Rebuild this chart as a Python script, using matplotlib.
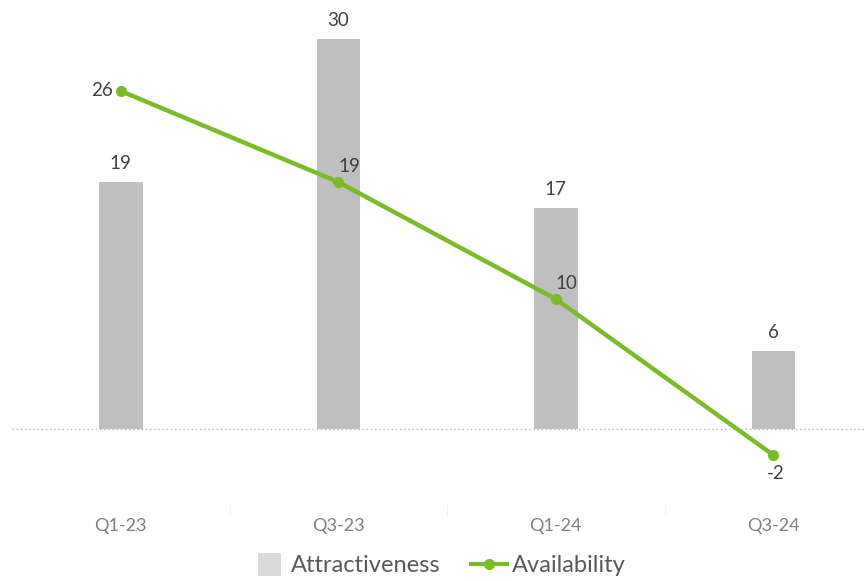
import matplotlib.pyplot as plt
from matplotlib.lines import Line2D
from matplotlib.patches import Patch, Rectangle
from matplotlib.legend_handler import HandlerPatch

quarters = ["Q1-23", "Q3-23", "Q1-24", "Q3-24"]
attractiveness = [19, 30, 17, 6]
availability = [26, 19, 10, -2]

BAR_COLOR = "#bfbfbf"
LINE_COLOR = "#7dba2a"
TEXT_COLOR = "#404040"

plt.rcParams['font.family'] = ['Lato', 'DejaVu Sans']


def square_patch(legend, orig_handle, xdescent, ydescent, width, height, fontsize):
    # box for the bar series, a bit taller than the text
    w = 16
    return Rectangle((width - w - 4 - xdescent, -ydescent - 3), w, height + 5)


fig = plt.figure(figsize=(8.64, 5.81), dpi=100)
ax = fig.add_axes([12 / 864, 66 / 581, 852 / 864, 515 / 581])

x = list(range(len(quarters)))
ax.bar(x, attractiveness, width=0.2, color=BAR_COLOR, zorder=2)
ax.plot(x, availability, color=LINE_COLOR, lw=3.2, marker='o', ms=7, zorder=3)

# bar values above each bar
for xi, v in zip(x, attractiveness):
    ax.annotate(str(v), (xi, v), xytext=(0, 7), textcoords='offset points',
                ha='center', va='bottom', fontsize=13.5, color=TEXT_COLOR)

# line values: first to the left, last below, others above-right
for i, (xi, v) in enumerate(zip(x, availability)):
    if i == 0:
        off, ha, va = (-6, 0), 'right', 'center'
    elif i == len(x) - 1:
        off, ha, va = (2, -7), 'center', 'top'
    else:
        off, ha, va = (0, 5), 'left', 'bottom'
    ax.annotate(str(v), (xi, v), xytext=off, textcoords='offset points',
                ha=ha, va=va, fontsize=13.5, color=TEXT_COLOR)

ax.axhline(0, color="#b8b8b8", lw=1, ls=(0, (1, 2)), zorder=1)

ax.set_xlim(-0.5, 3.417)
ax.set_ylim((429 - 515) / 13, 429 / 13)
ax.set_yticks([])
ax.set_xticks(x)
ax.set_xticklabels(quarters, fontsize=13, color="#7f7f7f")
ax.set_xticks([0.5, 1.5, 2.5], minor=True)
ax.tick_params(axis='x', which='major', length=0, pad=2)
ax.tick_params(axis='x', which='minor', length=8, direction='in', color="#ececec")
for s in ax.spines.values():
    s.set_visible(False)

handles = [Patch(facecolor="#d9d9d9", edgecolor='none'),
           Line2D([], [], color=LINE_COLOR, lw=3, marker='o', ms=7)]
fig.legend(handles, ["Attractiveness", "Availability"], loc='lower center',
           bbox_to_anchor=(438 / 864, -0.028), ncol=2, frameon=False,
           fontsize=17, labelcolor="#595959", handlelength=1.5,
           handletextpad=0.2, columnspacing=1.3,
           handler_map={Patch: HandlerPatch(patch_func=square_patch)})

fig.savefig("out.png", dpi=100)
